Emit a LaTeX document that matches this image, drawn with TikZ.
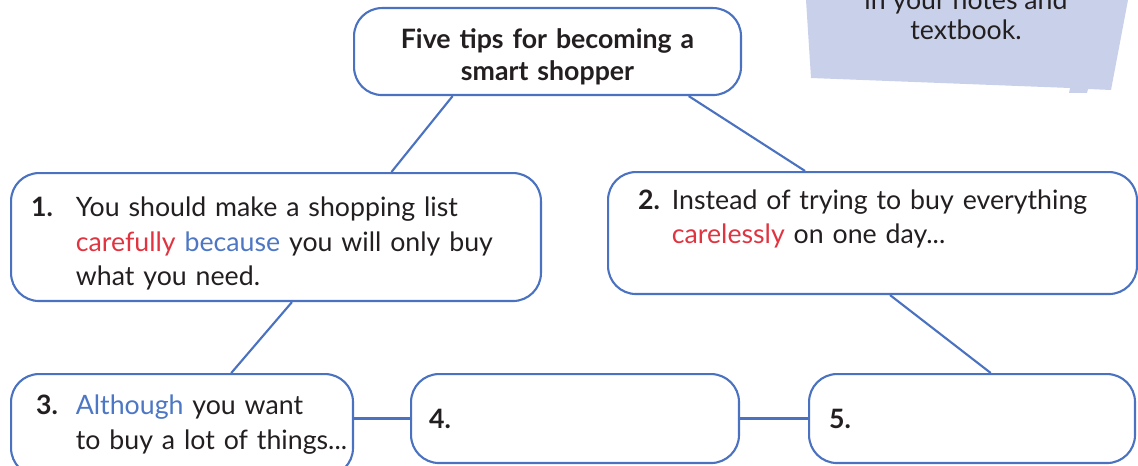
\documentclass[tikz,border=0pt]{standalone}
\usepackage{fontspec}
\setmainfont{Lato}
\usetikzlibrary{calc}

\definecolor{mapblue}{RGB}{74,114,192}
\definecolor{wordred}{RGB}{224,52,64}
\definecolor{wordblue}{RGB}{77,119,197}
\definecolor{inkgrey}{RGB}{35,31,32}
\definecolor{notefill}{RGB}{201,209,234}

\newcommand{\tipfont}{\fontsize{15.2}{19.6}\selectfont}

\tikzset{
  tipbox/.style={draw=mapblue, line width=1.2pt, rounded corners=0.56cm,
    anchor=north west, align=left, text=inkgrey, font=\tipfont, inner ysep=0pt},
  link/.style={draw=mapblue, line width=1.2pt},
}

\begin{document}
\begin{tikzpicture}[x=0.02cm, y=0.02cm]

  \useasboundingbox (0,0) rectangle (1138,-466);
  \clip (0,0) rectangle (1138,-466);

  % Note in the corner
  \fill[notefill] (806,0) -- (1128,0) -- (1111,-90) -- (1088,-89) -- (1087,-93)
    -- (1069,-93) -- (1070,-88) -- (811,-78) -- cycle;
  \node[align=center, text=inkgrey, font=\fontsize{15.2}{17.1}\selectfont] (note) at (966,-15)
    {in your notes and\\ textbook.};

  % Title
  \node[tipbox, align=center, font=\fontsize{15.2}{18.2}\selectfont\bfseries,
    inner xsep=0.2cm, text width=7.34cm, minimum height=1.74cm, text depth=0.5cm] (title) at (353,-7)
    {Five tips for becoming a\\ smart shopper};

  % Tips
  \node[tipbox, inner xsep=0.4cm, text width=9.8cm, minimum height=2.56cm, text depth=0.62cm] (box1) at (10,-172)
    {\begin{tabular}{@{}l@{\hspace{0.46cm}}l@{}}
      \textbf{1.} & You should make a shopping list\\
      & \textcolor{wordred}{carefully} \textcolor{wordblue}{because} you will only buy\\
      & what you need.
    \end{tabular}};

  \node[tipbox, inner xsep=0.6cm, text width=9.38cm, minimum height=2.44cm, text depth=1.1cm] (box2) at (607,-171)
    {\begin{tabular}{@{}l@{\hspace{0.24cm}}l@{}}
      \textbf{2.} & Instead of trying to buy everything\\
      & \textcolor{wordred}{carelessly} on one day...
    \end{tabular}};

  \node[tipbox, inner xsep=0.5cm, text width=5.84cm, minimum height=2.04cm] (box3) at (10,-373)
    {\begin{tabular}{@{}l@{\hspace{0.36cm}}l@{}}
      \textbf{3.} & \textcolor{wordblue}{Although} you want\\
      & to buy a lot of things...
    \end{tabular}};

  \node[tipbox, inner xsep=0.36cm, text width=5.84cm, minimum height=1.78cm] (box4) at (410,-373)
    {\textbf{4.}};

  \node[tipbox, inner xsep=0.4cm, text width=5.72cm, minimum height=1.78cm] (box5) at (808,-373)
    {\textbf{5.}};

  % Links
  \draw[link] ($(title.south west)!0.256!(title.south east)$) -- ($(box1.north west)!0.717!(box1.north east)$);
  \draw[link] ($(title.south west)!0.863!(title.south east)$) -- ($(box2.north west)!0.373!(box2.north east)$);
  \draw[link] ($(box1.south west)!0.53!(box1.south east)$) -- ($(box3.north west)!0.643!(box3.north east)$);
  \draw[link] ($(box2.south west)!0.533!(box2.south east)$) -- ($(box5.north west)!0.557!(box5.north east)$);
  \draw[link] (box4.west) -- (box4.west -| box3.east);
  \draw[link] (box4.east) -- (box5.west);

\end{tikzpicture}
\end{document}
